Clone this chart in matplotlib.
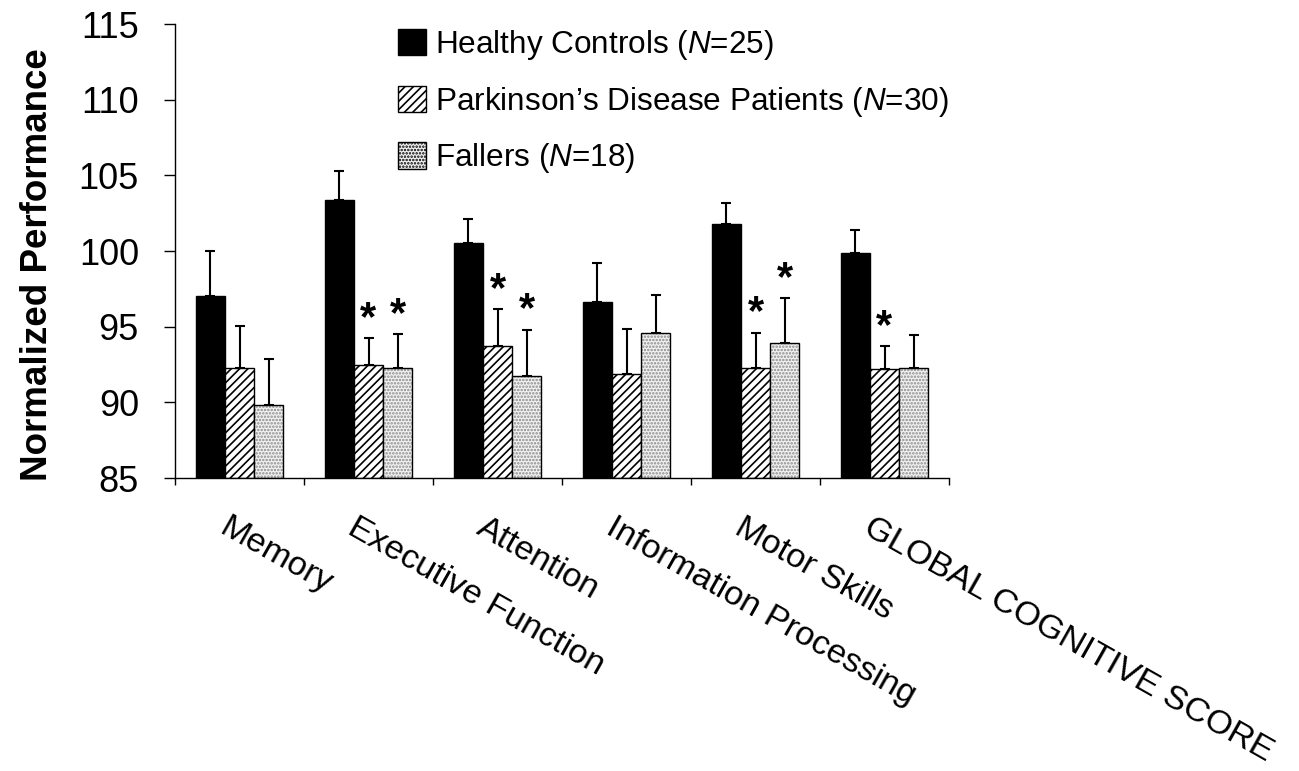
import numpy as np
import matplotlib
matplotlib.use("Agg")
from matplotlib import pyplot as plt
import matplotlib.transforms as mtransforms
from matplotlib.patches import Patch

plt.rcParams['font.family'] = ['Liberation Sans', 'DejaVu Sans']
plt.rcParams['mathtext.fontset'] = 'custom'
plt.rcParams['mathtext.rm'] = 'Liberation Sans'
plt.rcParams['mathtext.it'] = 'Liberation Sans:italic'
plt.rcParams['hatch.linewidth'] = 1.2

# data
categories = ['Memory', 'Executive Function', 'Attention', 'Information Processing',
              'Motor Skills', 'GLOBAL COGNITIVE SCORE']
group_names = ['Healthy Controls ($\\it{N}$=25)',
               'Parkinson\u2019s Disease Patients ($\\it{N}$=30)',
               'Fallers ($\\it{N}$=18)']
healthy = [97.0, 103.4, 100.55, 96.65, 101.8, 99.9]
healthy_err = [3.0, 1.9, 1.55, 2.55, 1.4, 1.5]
parkinson = [92.3, 92.5, 93.7, 91.9, 92.3, 92.2]
parkinson_err = [2.75, 1.75, 2.45, 2.95, 2.3, 1.5]
fallers = [89.85, 92.3, 91.75, 94.55, 93.9, 92.3]
fallers_err = [3.0, 2.2, 3.05, 2.55, 3.0, 2.15]
# significance stars (True = marked with *)
parkinson_sig = [False, True, True, False, True, True]
fallers_sig = [False, True, True, False, True, False]
yticks = [85, 90, 95, 100, 105, 110, 115]

fig = plt.figure(figsize=(12.99, 7.71), dpi=100)
ax = fig.add_axes([175 / 1299, 1 - 478 / 771, 774 / 1299, 454 / 771])

x = np.arange(len(categories)) + 0.5
w = 0.225
base = 85

err_kw = dict(fmt='none', ecolor='black', elinewidth=1.5, capsize=3.8, capthick=1.5)

ax.bar(x - w, np.array(healthy) - base, w, bottom=base, color='black',
       edgecolor='black', linewidth=1, label=group_names[0])
ax.errorbar(x - w, healthy, yerr=[np.zeros(6), healthy_err], **err_kw)

ax.bar(x, np.array(parkinson) - base, w, bottom=base, color='white',
       edgecolor='black', linewidth=1, hatch='////', label=group_names[1])
ax.errorbar(x, parkinson, yerr=[np.zeros(6), parkinson_err], **err_kw)

# dotted fill drawn in grey, outline drawn on top in black
ax.bar(x + w, np.array(fallers) - base, w, bottom=base, color='#f2f2f2',
       edgecolor='#8a8a8a', linewidth=0, hatch='.....')
ax.bar(x + w, np.array(fallers) - base, w, bottom=base, fill=False,
       edgecolor='black', linewidth=1)
ax.errorbar(x + w, fallers, yerr=[np.zeros(6), fallers_err], **err_kw)

for i in range(len(categories)):
    if parkinson_sig[i]:
        ax.text(x[i], parkinson[i] + parkinson_err[i] - 0.05, '*', ha='center',
                va='bottom', fontsize=30, fontweight='bold')
    if fallers_sig[i]:
        ax.text(x[i] + w, fallers[i] + fallers_err[i] - 0.05, '*', ha='center',
                va='bottom', fontsize=30, fontweight='bold')

ax.set_xlim(0, len(categories))
ax.set_ylim(85, 115)
ax.set_yticks(yticks)
ax.set_xticks(np.arange(len(categories) + 1))
ax.set_xticklabels([])
ax.tick_params(axis='y', direction='out', length=8, width=1, labelsize=26, pad=18)
ax.tick_params(axis='x', direction='out', length=5, width=1)
for s in ['top', 'right']:
    ax.spines[s].set_visible(False)
for s in ['left', 'bottom']:
    ax.spines[s].set_linewidth(1)

ax.set_ylabel('Normalized Performance', fontsize=26.5, fontweight='bold')
ax.yaxis.set_label_coords(-0.155, 0.47)

trans = mtransforms.blended_transform_factory(ax.transData, ax.transAxes)
for i, c in enumerate(categories):
    ax.text(x[i] - 0.08, -0.075, c, transform=trans, rotation=-29.5,
            rotation_mode='anchor', ha='left', va='top', fontsize=24.7)

handles, labels = ax.get_legend_handles_labels()
handles.append(Patch(facecolor='#f2f2f2', edgecolor='black', hatch='.....'))
labels.append(group_names[2])
ax.legend(handles, labels, loc='upper left', bbox_to_anchor=(398 / 1299, 1 - 28 / 771),
          bbox_transform=fig.transFigure, frameon=False, fontsize=22.7,
          handlelength=0.9, handleheight=0.9, handletextpad=0.28,
          labelspacing=0.72, borderaxespad=0, borderpad=0)

fig.savefig('out.png', dpi=100)
